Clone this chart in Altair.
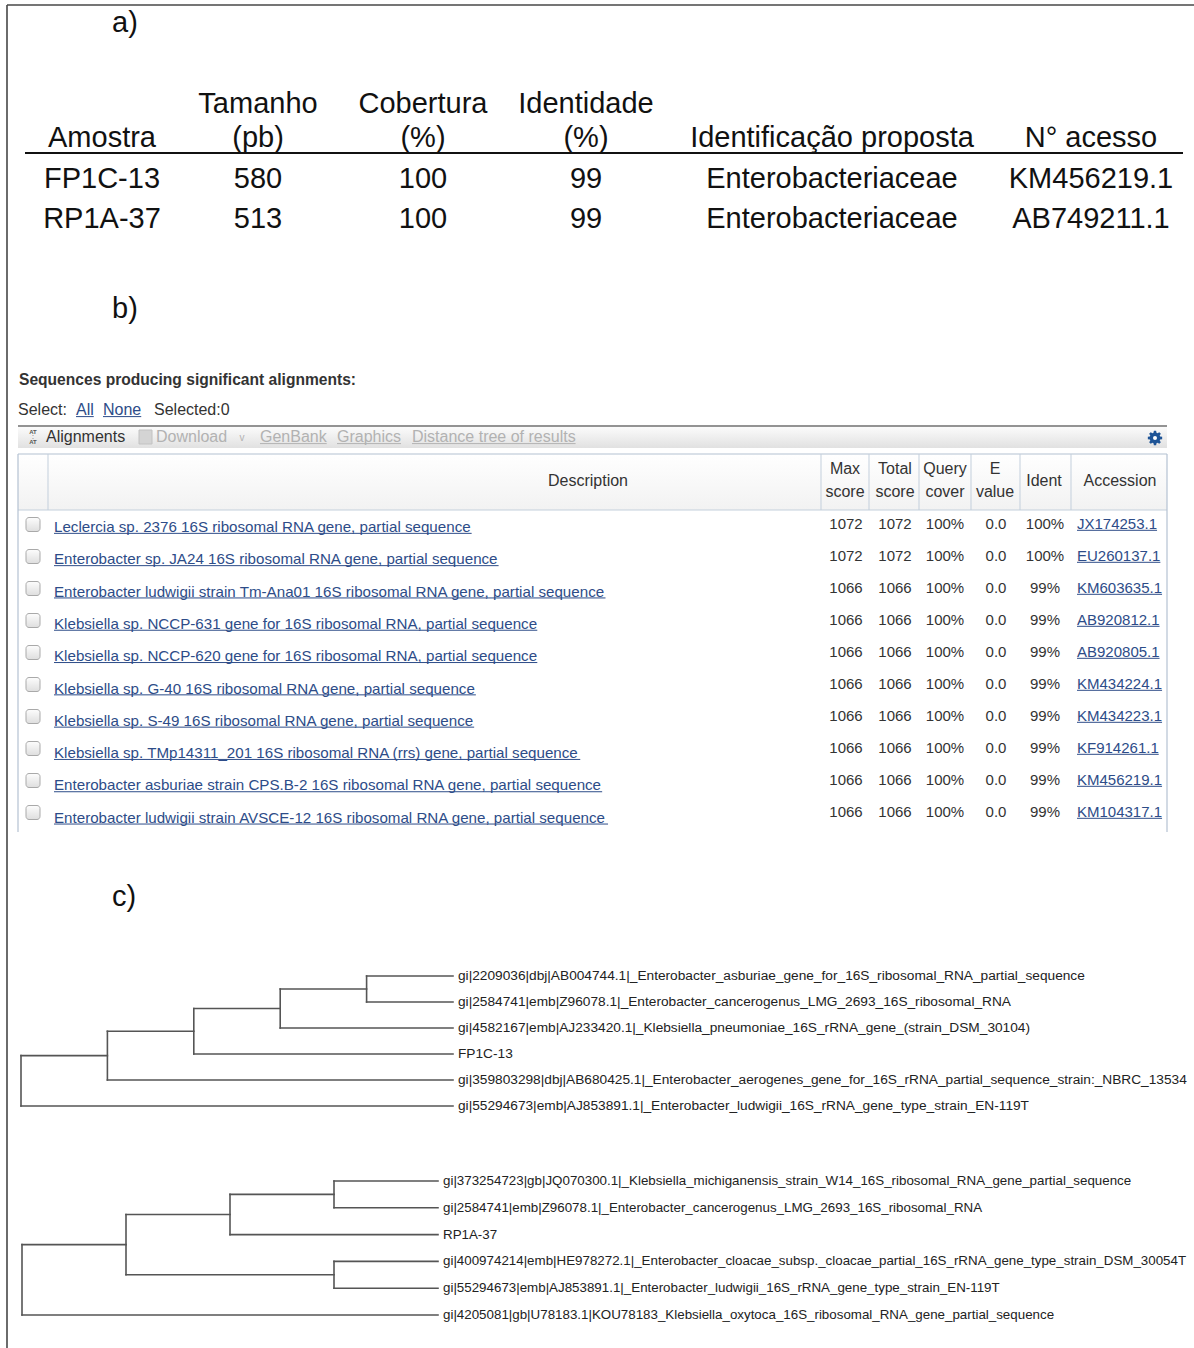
import math
import altair as alt
import pandas as pd

W, H = 1194, 1348
FONT = "Liberation Sans"

# ---------------- a) identification summary ----------------
A_HEAD_TOP = ["", "Tamanho", "Cobertura", "Identidade", "", ""]
A_HEAD_BOTTOM = ["Amostra", "(pb)", "(%)", "(%)", "Identificação proposta", "N° acesso"]
A_SAMPLE = ["FP1C-13", "RP1A-37"]
A_LENGTH_BP = [580, 513]
A_COVERAGE = [100, 100]
A_IDENTITY = [99, 99]
A_TAXON = ["Enterobacteriaceae", "Enterobacteriaceae"]
A_ACCESSION = ["KM456219.1", "AB749211.1"]

# ---------------- b) BLAST hit list ----------------
B_DESCRIPTION = [
    "Leclercia sp. 2376 16S ribosomal RNA gene, partial sequence",
    "Enterobacter sp. JA24 16S ribosomal RNA gene, partial sequence",
    "Enterobacter ludwigii strain Tm-Ana01 16S ribosomal RNA gene, partial sequence",
    "Klebsiella sp. NCCP-631 gene for 16S ribosomal RNA, partial sequence",
    "Klebsiella sp. NCCP-620 gene for 16S ribosomal RNA, partial sequence",
    "Klebsiella sp. G-40 16S ribosomal RNA gene, partial sequence",
    "Klebsiella sp. S-49 16S ribosomal RNA gene, partial sequence",
    "Klebsiella sp. TMp14311_201 16S ribosomal RNA (rrs) gene, partial sequence",
    "Enterobacter asburiae strain CPS.B-2 16S ribosomal RNA gene, partial sequence",
    "Enterobacter ludwigii strain AVSCE-12 16S ribosomal RNA gene, partial sequence",
]
B_MAX_SCORE = [1072, 1072, 1066, 1066, 1066, 1066, 1066, 1066, 1066, 1066]
B_TOTAL_SCORE = [1072, 1072, 1066, 1066, 1066, 1066, 1066, 1066, 1066, 1066]
B_QUERY_COVER = [100, 100, 100, 100, 100, 100, 100, 100, 100, 100]
B_E_VALUE = [0.0, 0.0, 0.0, 0.0, 0.0, 0.0, 0.0, 0.0, 0.0, 0.0]
B_IDENT = [100, 100, 99, 99, 99, 99, 99, 99, 99, 99]
B_ACCESSION = ["JX174253.1", "EU260137.1", "KM603635.1", "AB920812.1", "AB920805.1",
               "KM434224.1", "KM434223.1", "KF914261.1", "KM456219.1", "KM104317.1"]
B_HEAD_TOP = ["Max", "Total", "Query", "E", "", ""]
B_HEAD_BOTTOM = ["score", "score", "cover", "value", "Ident", "Accession"]

# ---------------- c) neighbour trees ----------------
TREE1_LEAVES = [
    "gi|2209036|dbj|AB004744.1|_Enterobacter_asburiae_gene_for_16S_ribosomal_RNA_partial_sequence",
    "gi|2584741|emb|Z96078.1|_Enterobacter_cancerogenus_LMG_2693_16S_ribosomal_RNA",
    "gi|4582167|emb|AJ233420.1|_Klebsiella_pneumoniae_16S_rRNA_gene_(strain_DSM_30104)",
    "FP1C-13",
    "gi|359803298|dbj|AB680425.1|_Enterobacter_aerogenes_gene_for_16S_rRNA_partial_sequence_strain:_NBRC_13534",
    "gi|55294673|emb|AJ853891.1|_Enterobacter_ludwigii_16S_rRNA_gene_type_strain_EN-119T",
]
TREE1 = (((((0, 1), 2), 3), 4), 5)
TREE2_LEAVES = [
    "gi|373254723|gb|JQ070300.1|_Klebsiella_michiganensis_strain_W14_16S_ribosomal_RNA_gene_partial_sequence",
    "gi|2584741|emb|Z96078.1|_Enterobacter_cancerogenus_LMG_2693_16S_ribosomal_RNA",
    "RP1A-37",
    "gi|400974214|emb|HE978272.1|_Enterobacter_cloacae_subsp._cloacae_partial_16S_rRNA_gene_type_strain_DSM_30054T",
    "gi|55294673|emb|AJ853891.1|_Enterobacter_ludwigii_16S_rRNA_gene_type_strain_EN-119T",
    "gi|4205081|gb|U78183.1|KOU78183_Klebsiella_oxytoca_16S_ribosomal_RNA_gene_partial_sequence",
]
TREE2 = ((((0, 1), 2), (3, 4)), 5)

# ---------------- helpers ----------------
# Arial / Liberation Sans advance widths (1/1000 em), used for underline lengths
_W = {" ": 278, "!": 278, "%": 889, "(": 333, ")": 333, ",": 278, "-": 333, ".": 278,
      ":": 278, "_": 556, "|": 260, "°": 400}
for c in "0123456789":
    _W[c] = 556
_W.update(dict(zip("ABCDEFGHIJKLMNOPQRSTUVWXYZ",
                   [667, 667, 722, 722, 667, 611, 778, 722, 278, 500, 667, 556, 833,
                    722, 778, 667, 778, 722, 667, 611, 722, 667, 944, 667, 667, 611])))
_W.update(dict(zip("abcdefghijklmnopqrstuvwxyz",
                   [556, 556, 500, 556, 556, 278, 556, 556, 222, 222, 500, 222, 833,
                    556, 556, 556, 556, 333, 500, 278, 556, 500, 722, 500, 500, 500])))


def text_width(s, size):
    return sum(_W.get(c, 556) for c in s) * size / 1000.0


texts = {}   # (align, weight, font) -> list of records
rules = []
tree_rules = []


def add_text(x, y, s, size, color, align="left", weight="normal", font=FONT):
    texts.setdefault((align, weight, font), []).append(
        dict(x=x, y=y, text=s, size=size, color=color))


def add_rule(x, y, x2, y2, color, width):
    rules.append(dict(x=x, y=y, x2=x2, y2=y2, color=color, w=width))


def add_link(x, y, s, size, color):
    add_text(x, y, s, size, color)
    uy = y + 0.3 * size + 1.8
    add_rule(x, uy, x + text_width(s, size), uy, color, 1)


def gear_path(teeth=8, r_out=1.0, r_in=0.74):
    pts = []
    step = 360.0 / teeth
    for k in range(teeth):
        a = k * step
        for r, da in ((r_in, -step * 0.36), (r_out, -step * 0.2),
                      (r_out, step * 0.2), (r_in, step * 0.36)):
            t = math.radians(a + da)
            pts.append((r * math.cos(t), r * math.sin(t)))
    return "M" + "L".join(f"{px:.3f},{py:.3f}" for px, py in pts) + "Z"


BLACK = "#111111"
DARK = "#333333"
LINK = "#2d4c88"
MUTED = "#b2b2b2"
GRID = "#c3cfdc"

# ---------------- figure frame ----------------
add_rule(7, 5, W, 5, "#474747", 1.6)
add_rule(7, 5, 7, H, "#474747", 1.6)

# ---------------- panel a ----------------
add_text(112, 23, "a)", 29, BLACK)
A_COL_X = [102, 258, 423, 586, 832, 1091]
for cx, top, bottom in zip(A_COL_X, A_HEAD_TOP, A_HEAD_BOTTOM):
    if top:
        add_text(cx, 104, top, 29, BLACK, align="center")
    add_text(cx, 138, bottom, 29, BLACK, align="center")
add_rule(25, 153, 1183, 153, BLACK, 2)
for i in range(len(A_SAMPLE)):
    y = 179 + 40 * i
    row = [A_SAMPLE[i], str(A_LENGTH_BP[i]), str(A_COVERAGE[i]), str(A_IDENTITY[i]),
           A_TAXON[i], A_ACCESSION[i]]
    for cx, s in zip(A_COL_X, row):
        add_text(cx, y, s, 29, BLACK, align="center")

# ---------------- panel b ----------------
add_text(112, 309, "b)", 29, BLACK)
add_text(19, 380, "Sequences producing significant alignments:", 15.6, DARK, weight="bold")
add_text(18, 410, "Select:", 16, DARK)
add_link(76, 410, "All", 16, LINK)
add_link(103, 410, "None", 16, LINK)
add_text(154, 410, "Selected:0", 16, DARK)

TB_L, TB_R = 18, 1167
toolbar = pd.DataFrame([dict(x=TB_L, x2=TB_R, y=427, y2=448)])
add_rule(TB_L, 426, TB_R, 426, "#6f6f6f", 1.6)
add_text(33, 431.5, "AT", 6, "#555555", align="center", weight="bold")
add_text(33, 442, "AT", 6, "#555555", align="center", weight="bold")
add_text(33, 437, ":", 7, "#555555", align="center")
add_text(46, 437, "Alignments", 16, DARK)
add_text(156, 437, "Download", 16, MUTED)
add_text(242, 438, "v", 10, MUTED, align="center")
add_link(260, 437, "GenBank", 16, MUTED)
add_link(337, 437, "Graphics", 16, MUTED)
add_link(412, 437, "Distance tree of results", 16, MUTED)
floppy = pd.DataFrame([dict(x=139, x2=152, y=430, y2=444)])
gear = pd.DataFrame([dict(x=1155, y=438)])

# header row
HEAD_T, HEAD_B, TABLE_B = 454, 510, 832
COL_EDGES = [18, 48, 821, 869, 919, 971, 1020, 1071, 1167]
header_bg = pd.DataFrame([dict(x=COL_EDGES[0], x2=COL_EDGES[-1], y=HEAD_T, y2=HEAD_B)])
add_rule(COL_EDGES[0], HEAD_T, COL_EDGES[-1], HEAD_T, "#b4c2d2", 1.2)
add_rule(COL_EDGES[0], HEAD_B, COL_EDGES[-1], HEAD_B, GRID, 1.2)
for ex in COL_EDGES[1:-1]:
    add_rule(ex, HEAD_T, ex, HEAD_B, GRID, 1)
add_rule(COL_EDGES[0], HEAD_T, COL_EDGES[0], TABLE_B, "#b4c2d2", 1.2)
add_rule(COL_EDGES[-1], HEAD_T, COL_EDGES[-1], TABLE_B, "#b4c2d2", 1.2)
add_text(588, 481, "Description", 16, DARK, align="center")
HEAD_X = [845, 895, 945, 995, 1044, 1120]
for cx, top, bottom in zip(HEAD_X, B_HEAD_TOP, B_HEAD_BOTTOM):
    if top:
        add_text(cx, 469, top, 16, DARK, align="center")
        add_text(cx, 492, bottom, 16, DARK, align="center")
    else:
        add_text(cx, 481, bottom, 16, DARK, align="center")

# hit rows
checks = []
NUM_X = [846, 895, 945, 996, 1045]
for i, desc in enumerate(B_DESCRIPTION):
    yd = 527 + 32.3 * i
    yn = 524 + 32.0 * i
    checks.append(dict(x=26, x2=40, y=yn - 6.5, y2=yn + 7.5))
    add_link(54, yd, desc, 15.15, LINK)
    vals = [str(B_MAX_SCORE[i]), str(B_TOTAL_SCORE[i]), f"{B_QUERY_COVER[i]}%",
            f"{B_E_VALUE[i]:.1f}", f"{B_IDENT[i]}%"]
    for cx, s in zip(NUM_X, vals):
        add_text(cx, yn, s, 15, DARK, align="center")
    add_link(1077, yn, B_ACCESSION[i], 15, LINK)
checks = pd.DataFrame(checks)

# ---------------- panel c ----------------
add_text(112, 897, "c)", 29, BLACK)


def tree_height(node):
    return 0 if isinstance(node, int) else 1 + max(tree_height(c) for c in node)


def draw_tree(tree, labels, y0, dy, x_root, x_tip, label_size):
    levels = tree_height(tree)
    step = (x_tip - x_root) / levels
    leaf_y = [y0 + dy * k for k in range(len(labels))]

    def walk(node):
        if isinstance(node, int):
            return x_tip, leaf_y[node]
        kids = [walk(c) for c in node]
        nx = x_root + (levels - tree_height(node)) * step
        ys = [ky for _, ky in kids]
        tree_rules.append(dict(x=nx, y=min(ys), x2=nx, y2=max(ys)))
        for kx, ky in kids:
            tree_rules.append(dict(x=nx, y=ky, x2=kx, y2=ky))
        return nx, (min(ys) + max(ys)) / 2

    walk(tree)
    for lbl, ly in zip(labels, leaf_y):
        add_text(x_tip + 5, ly, lbl, label_size, "#222222")


draw_tree(TREE1, TREE1_LEAVES, 976, 26.0, 21, 453, 13.7)
draw_tree(TREE2, TREE2_LEAVES, 1181, 26.8, 22, 438, 13.35)

# ---------------- assemble ----------------
XS = alt.Scale(domain=[0, W], nice=False, zero=False)
YS = alt.Scale(domain=[0, H], nice=False, zero=False, reverse=True)


def X(f="x"):
    return alt.X(f"{f}:Q", scale=XS, axis=None)


def Y(f="y"):
    return alt.Y(f"{f}:Q", scale=YS, axis=None)


def grad(top, bottom):
    return alt.Gradient(gradient="linear", x1=0, x2=0, y1=0, y2=1,
                        stops=[alt.GradientStop(color=top, offset=0),
                               alt.GradientStop(color=bottom, offset=1)])


layers = [
    alt.Chart(toolbar).mark_rect(fill=grad("#fbfbfb", "#e1e1e1")).encode(
        x=X(), x2="x2:Q", y=Y(), y2="y2:Q"),
    alt.Chart(header_bg).mark_rect(fill=grad("#ffffff", "#f2f2f2")).encode(
        x=X(), x2="x2:Q", y=Y(), y2="y2:Q"),
    alt.Chart(floppy).mark_rect(fill="#d4d4d4", stroke="#c2c2c2", strokeWidth=1).encode(
        x=X(), x2="x2:Q", y=Y(), y2="y2:Q"),
    alt.Chart(checks).mark_rect(fill=grad("#fdfdfd", "#dedede"), stroke="#a9a9a9",
                                strokeWidth=1, cornerRadius=3).encode(
        x=X(), x2="x2:Q", y=Y(), y2="y2:Q"),
    alt.Chart(gear).mark_point(shape=gear_path(), filled=True, fill="#1f5597",
                               opacity=1, size=210, strokeWidth=0).encode(x=X(), y=Y()),
    alt.Chart(gear).mark_point(shape="circle", filled=True, fill="#ffffff",
                               opacity=1, size=16, strokeWidth=0).encode(x=X(), y=Y()),
    alt.Chart(pd.DataFrame(rules)).mark_rule().encode(
        x=X(), x2="x2:Q", y=Y(), y2="y2:Q",
        color=alt.Color("color:N", scale=None),
        strokeWidth=alt.StrokeWidth("w:Q", scale=None)),
    alt.Chart(pd.DataFrame(tree_rules)).mark_rule(
        color="#555555", strokeWidth=1.6, strokeCap="square").encode(
        x=X(), x2="x2:Q", y=Y(), y2="y2:Q"),
]

for (align, weight, font), recs in texts.items():
    layers.append(
        alt.Chart(pd.DataFrame(recs)).mark_text(
            align=align, baseline="middle", font=font, fontWeight=weight).encode(
            x=X(), y=Y(), text=alt.Text("text:N"),
            size=alt.Size("size:Q", scale=None),
            color=alt.Color("color:N", scale=None)))

chart = alt.layer(*layers).properties(
    width=W, height=H, padding=0, background="white",
    autosize=alt.AutoSizeParams(type="none"),
).configure_view(stroke=None)

chart.save("out.html", embed_options={"renderer": "svg", "actions": False})
